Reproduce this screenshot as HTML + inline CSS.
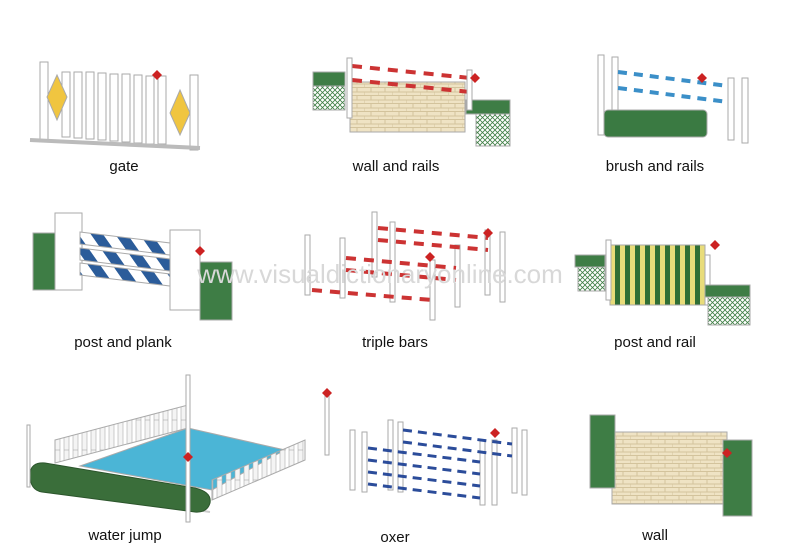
<!DOCTYPE html>
<html><head><meta charset="utf-8"><style>
html,body{margin:0;padding:0;background:#fff;width:800px;height:558px;overflow:hidden}
svg{display:block}
text{font-family:"Liberation Sans",sans-serif;font-size:15px;fill:#111}
</style></head><body>
<svg width="800" height="558" viewBox="0 0 800 558">
<defs>
<pattern id="bw" width="20" height="20" patternUnits="userSpaceOnUse" patternTransform="rotate(-35)">
<rect width="20" height="20" fill="#fff"/><rect width="10" height="20" fill="#2b5c9a"/></pattern>
<pattern id="brick" width="14" height="8" patternUnits="userSpaceOnUse">
<rect width="14" height="8" fill="#efe3c4"/><path d="M0 7.5H14M7 0V4M0 4H14M0 4V8" stroke="#d3c39c" stroke-width="1" fill="none"/></pattern>
<pattern id="lat" width="5" height="5" patternUnits="userSpaceOnUse">
<rect width="5" height="5" fill="#fff"/><path d="M0 0L5 5M5 0L0 5" stroke="#3f7f45" stroke-width="0.8"/></pattern>
<pattern id="ys" width="10" height="10" patternUnits="userSpaceOnUse">
<rect width="5" height="10" fill="#e8dc7a"/><rect x="5" width="5" height="10" fill="#2f6e35"/></pattern>
<pattern id="pk" width="9" height="30" patternUnits="userSpaceOnUse">
<rect width="9" height="30" fill="none"/><rect x="1" y="0" width="5" height="30" fill="#f4f4f4" stroke="#aaa" stroke-width="0.6"/></pattern>
</defs>
<g stroke="#aaa" stroke-width="1">
<!-- gate -->
<rect x="40" y="62" width="8" height="80" fill="#fff"/>
<rect x="190" y="75" width="8" height="75" fill="#fff"/>
<g fill="#fff">
<rect x="62" y="72" width="8" height="65"/><rect x="74" y="72" width="8" height="66"/><rect x="86" y="72" width="8" height="67"/>
<rect x="98" y="73" width="8" height="67"/><rect x="110" y="74" width="8" height="67"/><rect x="122" y="74" width="8" height="68"/>
<rect x="134" y="75" width="8" height="68"/><rect x="146" y="76" width="8" height="68"/><rect x="158" y="76" width="8" height="68"/>
</g>
<path d="M57 75L67 97L57 120L47 97Z" fill="#f0c540"/>
<path d="M180 90L190 113L180 135L170 113Z" fill="#f0c540"/>
<path d="M30 140L200 148" stroke="#bbb" stroke-width="4"/>
<!-- wall and rails -->
<rect x="350" y="82" width="115" height="50" fill="url(#brick)"/>
<rect x="313" y="72" width="32" height="14" fill="#3e7d45"/><rect x="313" y="86" width="32" height="24" fill="url(#lat)"/>
<rect x="466" y="100" width="44" height="14" fill="#3e7d45"/><rect x="476" y="114" width="34" height="32" fill="url(#lat)"/>
<path d="M352 66L470 78" stroke="#c33" stroke-width="4" stroke-dasharray="10 8"/>
<path d="M352 80L470 92" stroke="#c33" stroke-width="4" stroke-dasharray="10 8"/>
<rect x="347" y="58" width="5" height="60" fill="#fff"/><rect x="467" y="70" width="5" height="40" fill="#fff"/>
<!-- brush and rails -->
<rect x="598" y="55" width="6" height="80" fill="#fff"/><rect x="612" y="57" width="6" height="80" fill="#fff"/>
<rect x="728" y="78" width="6" height="62" fill="#fff"/><rect x="742" y="78" width="6" height="65" fill="#fff"/>
<path d="M618 72L728 86" stroke="#3b8fc8" stroke-width="4" stroke-dasharray="9 7"/>
<path d="M618 88L728 102" stroke="#3b8fc8" stroke-width="4" stroke-dasharray="9 7"/>
<rect x="604" y="110" width="103" height="27" rx="4" fill="#3a7a42"/>
<!-- post and plank -->
<rect x="33" y="233" width="25" height="57" fill="#3e7d45"/>
<rect x="55" y="213" width="27" height="77" fill="#fff"/>
<path d="M80 232L170 243L170 255L80 244Z" fill="url(#bw)"/>
<path d="M80 248L170 259L170 271L80 260Z" fill="url(#bw)"/>
<path d="M80 263L170 274L170 286L80 275Z" fill="url(#bw)"/>
<rect x="170" y="230" width="30" height="80" fill="#fff"/>
<rect x="200" y="262" width="32" height="58" fill="#3e7d45"/>
<!-- triple bars -->
<g fill="#fff">
<rect x="305" y="235" width="5" height="60"/><rect x="340" y="238" width="5" height="60"/><rect x="372" y="212" width="5" height="65"/>
<rect x="390" y="222" width="5" height="80"/><rect x="430" y="260" width="5" height="60"/><rect x="455" y="245" width="5" height="62"/>
<rect x="485" y="230" width="5" height="65"/><rect x="500" y="232" width="5" height="70"/>
</g>
<path d="M378 228L488 238M378 240L488 250" stroke="#c33" stroke-width="4" stroke-dasharray="10 8"/>
<path d="M346 258L456 268M346 270L456 280" stroke="#c33" stroke-width="4" stroke-dasharray="10 8"/>
<path d="M312 290L432 300" stroke="#c33" stroke-width="4" stroke-dasharray="10 8"/>
<!-- post and rail -->
<rect x="575" y="255" width="30" height="12" fill="#3e7d45"/><rect x="578" y="267" width="27" height="24" fill="url(#lat)"/>
<rect x="610" y="245" width="95" height="60" fill="url(#ys)"/>
<rect x="606" y="240" width="5" height="60" fill="#fff"/><rect x="705" y="255" width="5" height="50" fill="#fff"/>
<rect x="705" y="285" width="45" height="12" fill="#3e7d45"/><rect x="708" y="297" width="42" height="28" fill="url(#lat)"/>
<!-- water jump -->
<path d="M32 485L210 512" stroke="#ccc" stroke-width="2"/>
<path d="M55 440L188 405L188 428L55 463Z" fill="url(#pk)"/>
<path d="M80 466L188 428L285 450L212 490Z" fill="#4bb5d6"/>
<path d="M212 480L305 440L305 460L212 500Z" fill="url(#pk)"/>
<path d="M30 475Q30 462 45 463L195 488Q212 492 210 503Q207 513 195 512L42 492Q30 490 30 475Z" fill="#3a6e3a" stroke="#2c552c"/>
<rect x="186" y="375" width="4" height="147" fill="#fff"/><rect x="27" y="425" width="3" height="62" fill="#fff"/>
<rect x="325" y="395" width="4" height="60" fill="#fff"/>
<!-- oxer -->
<g fill="#fff">
<rect x="350" y="430" width="5" height="60"/><rect x="362" y="432" width="5" height="60"/><rect x="388" y="420" width="5" height="70"/>
<rect x="398" y="422" width="5" height="70"/><rect x="480" y="440" width="5" height="65"/><rect x="492" y="440" width="5" height="65"/>
<rect x="512" y="428" width="5" height="65"/><rect x="522" y="430" width="5" height="65"/>
</g>
<path d="M368 448L480 462M368 460L480 474M368 472L480 486M368 484L480 498M403 430L512 444M403 442L512 456" stroke="#2b4c9a" stroke-width="3" stroke-dasharray="9 6"/>
<!-- wall -->
<rect x="612" y="432" width="115" height="72" fill="url(#brick)"/>
<rect x="590" y="415" width="25" height="73" fill="#3e7d45"/>
<rect x="723" y="440" width="29" height="76" fill="#3e7d45"/>
</g>
<g fill="#c22">
<path d="M157 70l5 5-5 5-5-5z"/><path d="M475 73l5 5-5 5-5-5z"/><path d="M702 73l5 5-5 5-5-5z"/>
<path d="M200 246l5 5-5 5-5-5z"/><path d="M430 252l5 5-5 5-5-5z"/><path d="M488 228l5 5-5 5-5-5z"/>
<path d="M715 240l5 5-5 5-5-5z"/><path d="M327 388l5 5-5 5-5-5z"/><path d="M188 452l5 5-5 5-5-5z"/>
<path d="M495 428l5 5-5 5-5-5z"/><path d="M727 448l5 5-5 5-5-5z"/>
</g>
<text x="380" y="283" text-anchor="middle" style="font-size:26px;fill:#d8d8d8">www.visualdictionaryonline.com</text>
<text x="124" y="171" text-anchor="middle">gate</text>
<text x="396" y="171" text-anchor="middle">wall and rails</text>
<text x="655" y="171" text-anchor="middle">brush and rails</text>
<text x="123" y="347" text-anchor="middle">post and plank</text>
<text x="395" y="347" text-anchor="middle">triple bars</text>
<text x="655" y="347" text-anchor="middle">post and rail</text>
<text x="125" y="540" text-anchor="middle">water jump</text>
<text x="395" y="542" text-anchor="middle">oxer</text>
<text x="655" y="540" text-anchor="middle">wall</text>
</svg>
</body></html>
